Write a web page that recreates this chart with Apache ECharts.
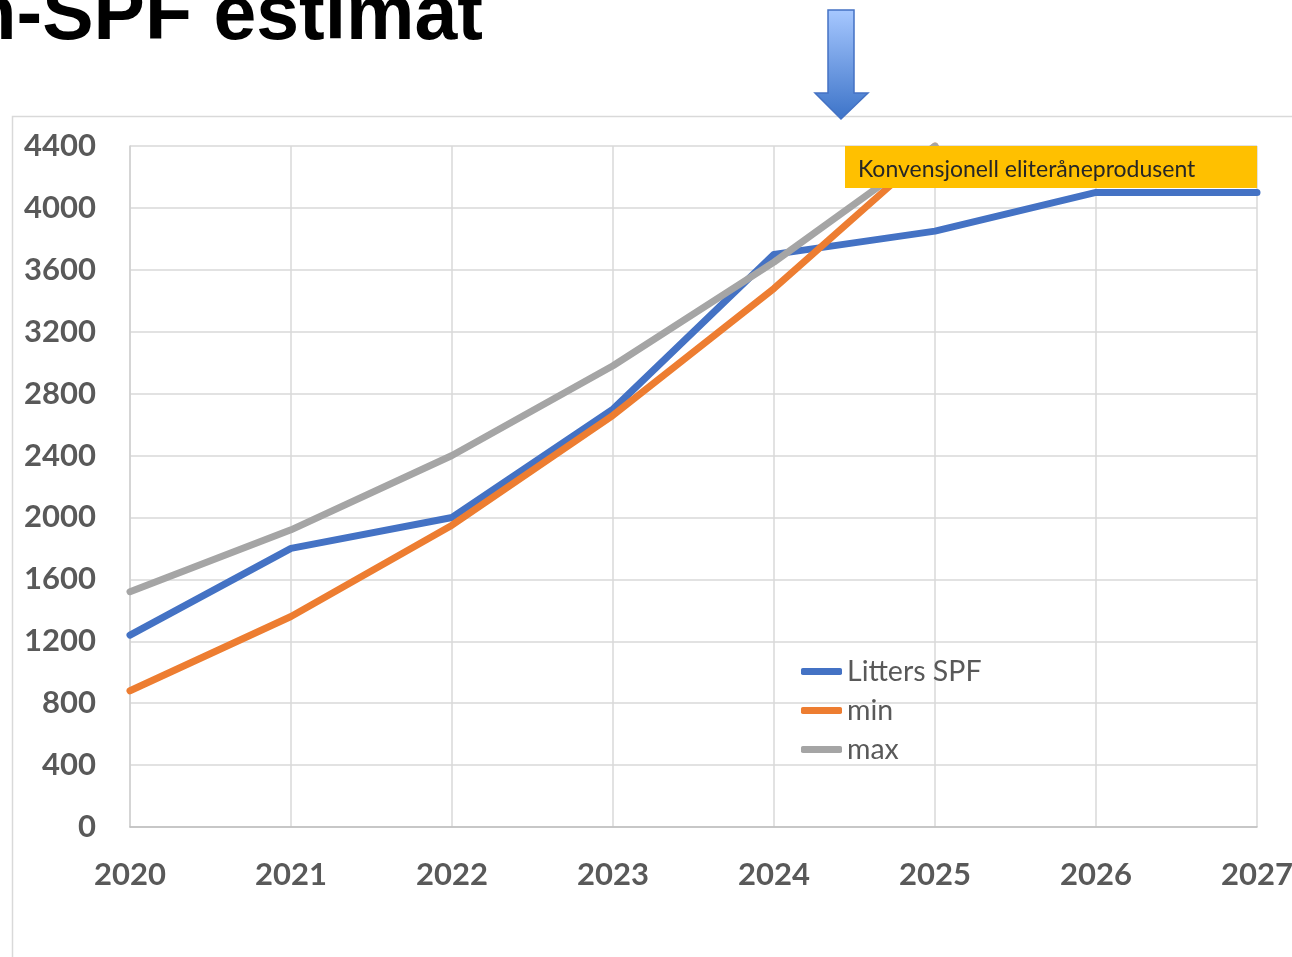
<!DOCTYPE html>
<html>
<head>
<meta charset="utf-8">
<script src="https://cdn.jsdelivr.net/npm/echarts@6/dist/echarts.min.js"></script>
<style>
html,body{margin:0;padding:0;background:#fff;}
#c{width:1292px;height:957px;}
</style>
</head>
<body>
<div id="c"></div>
<script>
var years = ['2020','2021','2022','2023','2024','2025','2026','2027'];
var littersSPF = [1240, 1800, 2000, 2700, 3700, 3850, 4100, 4100];
var minVals = [880, 1360, 1950, 2660, 3480, 4400, null, null];
var maxVals = [1520, 1920, 2400, 2980, 3650, 4400, null, null];
var seriesNames = ['Litters SPF', 'min', 'max'];
var titleText = 'n-SPF estimat';
var boxText = 'Konvensjonell eliteråneprodusent';

var chart = echarts.init(document.getElementById('c'), null, {renderer:'canvas'});
var labelFont = 'Lato';
var gray = '#595959';
var colors = ['#4472C4', '#ED7D31', '#A5A5A5'];
var data = [littersSPF, minVals, maxVals];

chart.setOption({
  animation: false,
  backgroundColor: '#ffffff',
  grid: {left: 130, top: 146, width: 1127, height: 681, containLabel: false, outerBoundsMode: 'none'},
  xAxis: {
    type: 'category',
    data: years,
    boundaryGap: false,
    axisLine: {show: true, lineStyle: {color: '#bfbfbf', width: 1.5}},
    axisTick: {show: false},
    splitLine: {show: true, lineStyle: {color: '#d9d9d9', width: 1.5}},
    axisLabel: {
      interval: 0, margin: 32, fontSize: 31, fontWeight: 'bold',
      fontFamily: labelFont, color: gray, showMaxLabel: true, hideOverlap: false
    }
  },
  yAxis: {
    type: 'value',
    min: 0, max: 4400, interval: 400,
    axisLine: {show: true, lineStyle: {color: '#d0d0d0', width: 1.5}},
    axisTick: {show: false},
    splitLine: {show: true, lineStyle: {color: '#d9d9d9', width: 1.5}},
    axisLabel: {
      margin: 34, fontSize: 31, fontWeight: 'bold', fontFamily: labelFont, color: gray,
      formatter: function (v) { return String(v); }
    }
  },
  legend: {
    orient: 'vertical',
    left: 801, top: 657, padding: 0,
    itemWidth: 41, itemHeight: 7, itemGap: 10,
    icon: 'roundRect',
    data: seriesNames,
    textStyle: {fontSize: 28.5, fontFamily: labelFont, color: gray}
  },
  series: seriesNames.map(function (n, i) {
    return {
      name: n, type: 'line', data: data[i],
      symbol: 'none', showSymbol: false,
      connectNulls: false,
      z: 2 + i,
      lineStyle: {color: colors[i], width: 7, join: 'round', cap: 'round'},
      itemStyle: {color: colors[i]}
    };
  }),
  graphic: [
    {
      type: 'rect', z: 0, silent: true,
      shape: {x: 12.5, y: 116.5, width: 1400, height: 1000},
      style: {fill: 'none', stroke: '#d9d9d9', lineWidth: 1.5}
    },
    {
      type: 'text', z: 100,
      style: {
        text: titleText, x: 483, y: 56,
        textAlign: 'right', textVerticalAlign: 'bottom',
        font: 'bold 77px "Liberation Sans", Arial, sans-serif',
        fill: '#000000'
      }
    },
    {
      type: 'polygon', z: 100,
      shape: {points: [[828, 10], [854, 10], [854, 93], [868, 93], [841, 119], [815, 93], [828, 93]]},
      style: {
        fill: new echarts.graphic.LinearGradient(0, 0, 0, 1, [
          {offset: 0, color: '#A7C8FF'},
          {offset: 1, color: '#3C73C8'}
        ]),
        stroke: '#4472C4', lineWidth: 1.5
      }
    },
    {
      type: 'rect', z: 100,
      shape: {x: 845, y: 146, width: 412, height: 42},
      style: {fill: '#FFC000'}
    },
    {
      type: 'text', z: 101,
      style: {
        text: boxText, x: 858, y: 170,
        textAlign: 'left', textVerticalAlign: 'middle',
        font: '23px Lato, sans-serif', fill: '#262626'
      }
    }
  ]
});
</script>
</body>
</html>
